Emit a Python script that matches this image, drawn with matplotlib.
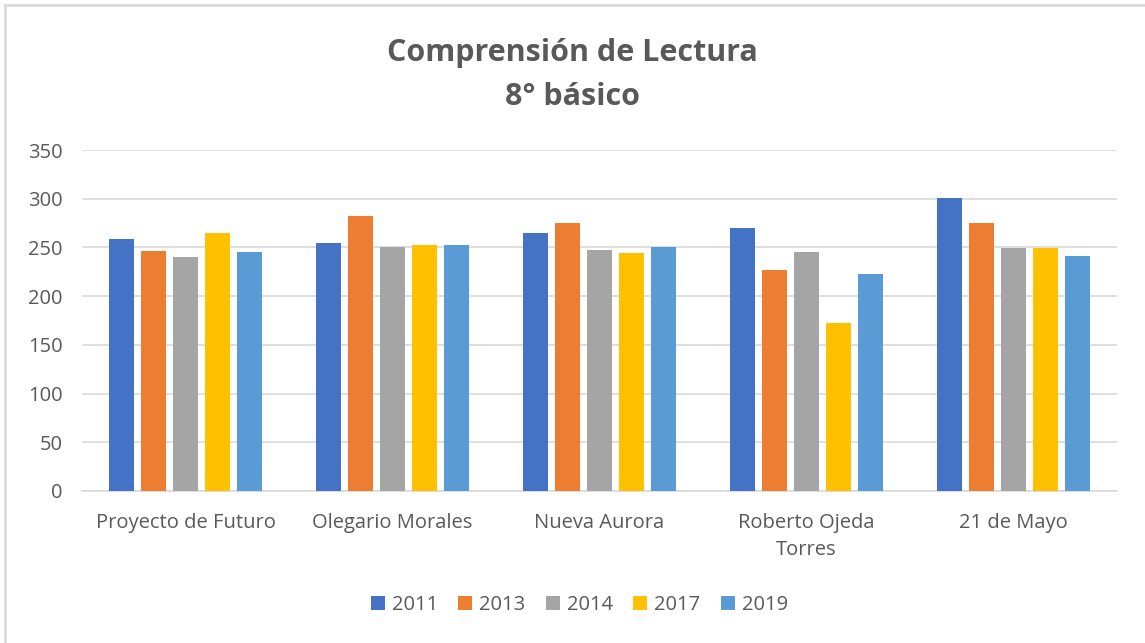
import matplotlib
matplotlib.use("Agg")
import matplotlib.pyplot as plt
from matplotlib.lines import Line2D
import numpy as np

categories = ["Proyecto de Futuro", "Olegario Morales", "Nueva Aurora", "Roberto Ojeda\nTorres", "21 de Mayo"]
years = ["2011", "2013", "2014", "2017", "2019"]
v2011 = [259, 255, 265, 270, 301]
v2013 = [246, 282, 275, 227, 275]
v2014 = [240, 250, 247, 245, 249]
v2017 = [265, 252, 244, 172, 249]
v2019 = [245, 252, 250, 223, 241]
series = [v2011, v2013, v2014, v2017, v2019]
colors = ["#4472C4", "#ED7D31", "#A5A5A5", "#FFC000", "#5B9BD5"]
yticks = [0, 50, 100, 150, 200, 250, 300, 350]

plt.rcParams['font.family'] = ['Open Sans', 'DejaVu Sans']
text_color = "#595959"

fig = plt.figure(figsize=(11.45, 6.43), dpi=100)
ax = fig.add_axes([82/1145, 1-491/643, (1117-82)/1145, (491-150)/643])

x = np.arange(len(categories))
slot = 0.1535
width = 0.121
for i, (vals, col, yr) in enumerate(zip(series, colors, years)):
    ax.bar(x + (i - 2) * slot, vals, width=width, color=col, label=yr, zorder=3)

ax.set_xlim(-0.5, len(categories) - 0.5)
ax.set_ylim(0, 350)
ax.set_yticks(yticks)
ax.set_yticklabels([str(t) for t in yticks], fontsize=14.5, color=text_color)
ax.set_xticks(x)
ax.set_xticklabels(categories, fontsize=14.5, color=text_color, linespacing=1.45)
ax.tick_params(axis='both', length=0)
ax.tick_params(axis='y', pad=14)
ax.tick_params(axis='x', pad=16)
ax.grid(axis='y', color="#D9D9D9", linewidth=1.2, zorder=0)
for s in ['top', 'right', 'left']:
    ax.spines[s].set_visible(False)
ax.spines['bottom'].set_color("#D9D9D9")
ax.spines['bottom'].set_linewidth(1.2)

fig.text(0.5, 1-75/643, "Comprensión de Lectura\n8° básico", ha='center', va='center',
         fontsize=22, fontweight='bold', color=text_color, linespacing=1.6)

leg = fig.legend(loc='center', bbox_to_anchor=(0.506, 1-605/643), ncol=5, frameon=False,
                 fontsize=14.5, handlelength=0.7, handleheight=0.7, handletextpad=0.35,
                 columnspacing=1.0)
for t in leg.get_texts():
    t.set_color(text_color)

# chart border (top and left visible)
fig.add_artist(Line2D([5/1145, 1], [1-5/643, 1-5/643], color="#D9D9D9", linewidth=2, transform=fig.transFigure))
fig.add_artist(Line2D([5/1145, 5/1145], [0, 1-5/643], color="#D9D9D9", linewidth=2, transform=fig.transFigure))

fig.savefig("out.png", dpi=100)
